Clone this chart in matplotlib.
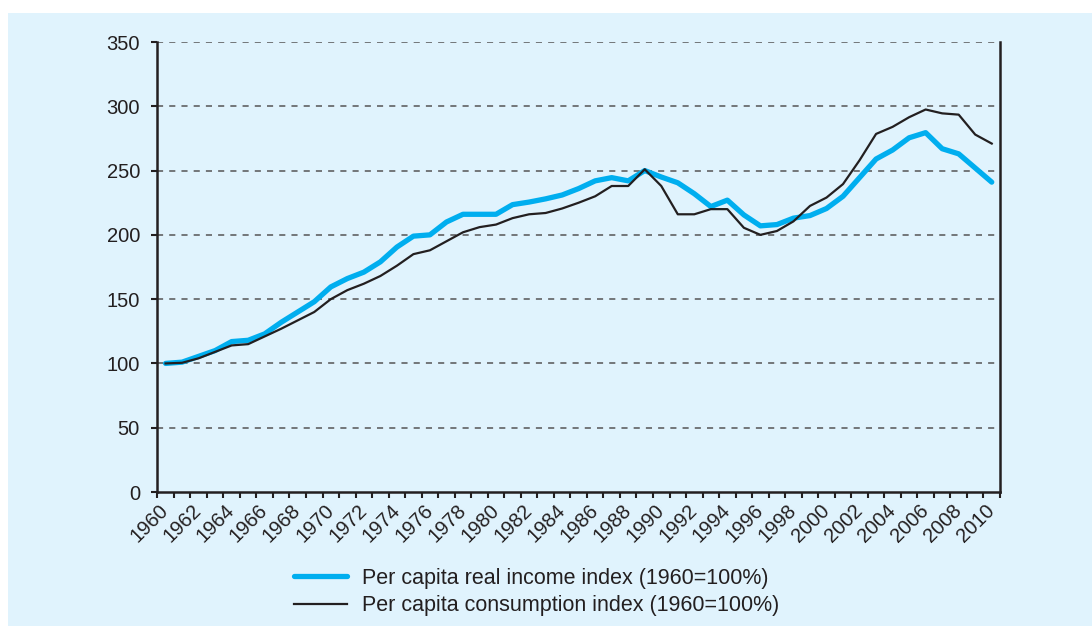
import numpy as np
import matplotlib.pyplot as plt
from matplotlib.patches import Rectangle
from matplotlib.ticker import MultipleLocator

# Data, 1960..2010
years = list(range(1960, 2011))
income_index = [
    100, 101, 105.5, 110, 117, 118, 123, 132, 140, 148,
    159.5, 166, 171, 179, 190.5, 199, 200, 210, 216, 216,
    216, 223.5, 225.5, 228, 231, 236, 242, 244.5, 242, 250,
    245, 240.5, 232, 222, 227, 215.5, 207, 208, 213, 215,
    220.5, 230, 244.5, 259, 266, 275.5, 279.5, 267, 263, 252, 241,
]
consumption_index = [
    100, 100.5, 104, 109, 114, 115, 121, 127, 133.5, 140,
    150, 157, 162, 168, 176, 185, 188, 195, 202, 206,
    208, 213, 216, 217, 220.5, 225, 230, 238, 238, 251,
    238, 216, 216, 220, 220, 205.5, 200, 203, 210.5, 222.5,
    229, 239.5, 258, 278.5, 284, 291.5, 297.5, 294.5, 293.5, 278, 271,
]
labels = ['Per capita real income index (1960=100%)',
          'Per capita consumption index (1960=100%)']

bg = '#e0f3fd'
ink = '#231f20'
blue = '#00aeef'

plt.rcParams['font.family'] = ['Liberation Sans', 'DejaVu Sans']

W, H = 1092, 626
fig = plt.figure(figsize=(W / 100, H / 100), dpi=100)
fig.patch.set_facecolor('white')
# light blue panel behind everything
fig.patches.append(Rectangle((8 / W, 0), 1 - 8 / W, 1 - 13 / H,
                             transform=fig.transFigure, facecolor=bg,
                             edgecolor='none', zorder=-10))

ax = fig.add_axes([157.3 / W, 1 - 492 / H, (1000 - 157.3) / W, (492 - 42) / H])
ax.set_facecolor(bg)

ax.plot(years, income_index, color=blue, lw=3.8, solid_joinstyle='round',
        solid_capstyle='round', label=labels[0], zorder=3)
ax.plot(years, consumption_index, color=ink, lw=1.6, label=labels[1], zorder=4)

ax.set_xlim(1959.5, 2010.5)
ax.set_ylim(0, 350)

# gridlines
ax.yaxis.set_major_locator(MultipleLocator(50))
for v in range(50, 351, 50):
    ax.axhline(v, color='#555555', lw=1.1, ls=(0, (4, 4)), zorder=1)

# spines
ax.spines['top'].set_visible(False)
for s in ['left', 'bottom', 'right']:
    ax.spines[s].set_color(ink)
    ax.spines[s].set_linewidth(1.8)

# x ticks: marks at category boundaries, labels at even years
ax.set_xticks(years[::2])
ax.set_xticks(np.arange(1959.5, 2011, 1), minor=True)
ax.tick_params(axis='x', which='major', length=0, pad=11, labelsize=14.5,
               colors=ink)
ax.tick_params(axis='x', which='minor', length=4.5, width=1.5, color=ink,
               direction='out')
for lab in ax.get_xticklabels():
    lab.set_rotation(45)
    lab.set_rotation_mode('anchor')
    lab.set_ha('right')
    lab.set_va('center')

ax.tick_params(axis='y', which='major', length=4.5, width=1.5, pad=8,
               labelsize=14.5, colors=ink)
ax.tick_params(axis='y', which='both', right=False)

leg = fig.legend(loc='center left', bbox_to_anchor=(294 / W, 1 - 592 / H),
                 frameon=False, borderpad=0, borderaxespad=0,
                 handlelength=2.45, handletextpad=0.7, labelspacing=0.3,
                 prop={'size': 15.5})
for t in leg.get_texts():
    t.set_color(ink)

fig.savefig('out.png', dpi=100, facecolor=fig.get_facecolor())
